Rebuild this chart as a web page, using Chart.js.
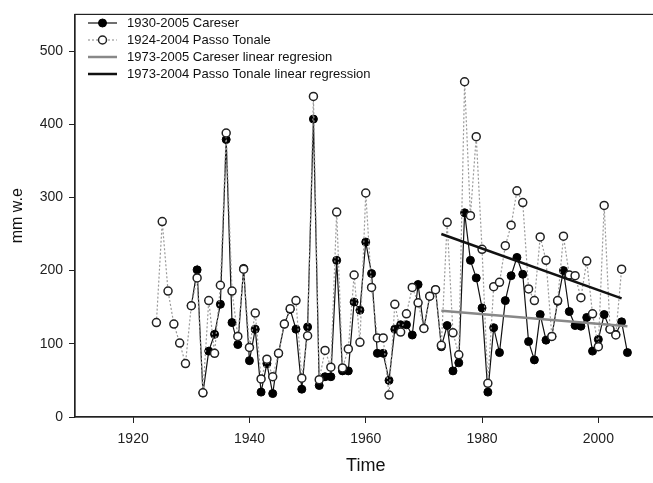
<!DOCTYPE html>
<html>
<head>
<meta charset="utf-8">
<script src="https://cdn.jsdelivr.net/npm/chart.js@4.4.1/dist/chart.umd.min.js"></script>
<style>
  html, body { margin: 0; padding: 0; background: #fff; overflow: hidden; }
</style>
</head>
<body>
<canvas id="chart" width="662" height="483"></canvas>
<script>
// years shared by both stations (Careser starts 1930, Passo Tonale ends 2004)
const years = [
  1924, 1925, 1926, 1927, 1928, 1929, 1930, 1931, 1932, 1933,
  1934, 1935, 1936, 1937, 1938, 1939, 1940, 1941, 1942, 1943,
  1944, 1945, 1946, 1947, 1948, 1949, 1950, 1951, 1952, 1953,
  1954, 1955, 1956, 1957, 1958, 1959, 1960, 1961, 1962, 1963,
  1964, 1965, 1966, 1967, 1968, 1969, 1970, 1971, 1972, 1973,
  1974, 1975, 1976, 1977, 1978, 1979, 1980, 1981, 1982, 1983,
  1984, 1985, 1986, 1987, 1988, 1989, 1990, 1991, 1992, 1993,
  1994, 1995, 1996, 1997, 1998, 1999, 2000, 2001, 2002, 2003,
  2004, 2005
];

const careser = [
  null, null, null, null, null, null, 152, 201, 33, 90,
  113, 154, 379, 129, 99, 203, 77, 120, 34, 73,
  32, 87, 127, 147, 120, 38, 123, 407, 43, 55,
  55, 214, 63, 63, 157, 146, 239, 196, 87, 87,
  50, 120, 126, 126, 112, 181, 121, 165, 174, 96,
  125, 63, 74, 279, 214, 190, 149, 34, 122, 88,
  159, 193, 218, 195, 103, 78, 140, 105, 110, 158,
  200, 144, 125, 124, 136, 90, 106, 140, 120, 113,
  130, 88
];

const tonale = [
  129, 267, 172, 127, 101, 73, 152, 190, 33, 159,
  87, 180, 388, 172, 110, 202, 95, 142, 52, 79,
  55, 87, 127, 148, 159, 53, 111, 438, 51, 91,
  68, 280, 67, 93, 194, 102, 306, 177, 108, 108,
  30, 154, 116, 141, 177, 156, 121, 165, 174, 98,
  266, 115, 85, 458, 275, 383, 229, 46, 178, 184,
  234, 262, 309, 293, 175, 159, 246, 214, 110, 159,
  247, 194, 193, 163, 213, 141, 96, 289, 120, 112,
  202, null
];

// regression lines, end points
const careserFitYears = [1973, 2005];
const careserFit = [145, 124];
const tonaleFitYears = [1973, 2004];
const tonaleFit = [250, 162];

const xTicks = [1920, 1940, 1960, 1980, 2000];
const yTicks = [0, 100, 200, 300, 400, 500];

const legendLabels = [
  "1930-2005 Careser",
  "1924-2004 Passo Tonale",
  "1973-2005 Careser linear regresion",
  "1973-2004 Passo Tonale linear regression"
];

function toPoints(xs, ys) {
  return xs.map((x, i) => ({ x: x, y: ys[i] }));
}

const FONT = "'Liberation Sans', Arial, sans-serif";

// box round the plot area
const framePlugin = {
  id: 'frame',
  afterDraw(chart) {
    const { ctx, chartArea: a } = chart;
    ctx.save();
    ctx.strokeStyle = '#222';
    ctx.lineWidth = 1.2;
    ctx.strokeRect(a.left, a.top, a.right - a.left, a.bottom - a.top);
    ctx.restore();
  }
};

// legend drawn inside the plot, top left
const legendPlugin = {
  id: 'innerLegend',
  afterDraw(chart) {
    const ctx = chart.ctx;
    const x0 = 88, x1 = 117, tx = 127;
    const rows = [23, 40, 57, 74];
    ctx.save();
    ctx.font = '13px ' + FONT;
    ctx.textBaseline = 'middle';
    legendLabels.forEach((lab, i) => {
      const ds = chart.data.datasets[i];
      const y = rows[i];
      ctx.beginPath();
      ctx.strokeStyle = ds.borderColor;
      ctx.lineWidth = ds.borderWidth;
      ctx.setLineDash(ds.borderDash || []);
      ctx.moveTo(x0, y);
      ctx.lineTo(x1, y);
      ctx.stroke();
      ctx.setLineDash([]);
      if (ds.pointRadius > 0) {
        ctx.beginPath();
        ctx.arc((x0 + x1) / 2, y, ds.pointRadius, 0, Math.PI * 2);
        ctx.fillStyle = ds.pointBackgroundColor;
        ctx.fill();
        ctx.lineWidth = ds.pointBorderWidth;
        ctx.strokeStyle = ds.pointBorderColor;
        ctx.stroke();
      }
      ctx.fillStyle = '#111';
      ctx.fillText(lab, tx, y);
    });
    ctx.restore();
  }
};

new Chart(document.getElementById('chart'), {
  type: 'line',
  data: {
    datasets: [
      {
        label: legendLabels[0],
        data: toPoints(years, careser),
        borderColor: '#111',
        borderWidth: 1.2,
        pointRadius: 4,
        pointBackgroundColor: '#000',
        pointBorderColor: '#000',
        pointBorderWidth: 1,
        order: 2
      },
      {
        label: legendLabels[1],
        data: toPoints(years, tonale),
        borderColor: '#999',
        borderWidth: 1.2,
        borderDash: [2, 2],
        pointRadius: 4,
        pointBackgroundColor: '#fff',
        pointBorderColor: '#222',
        pointBorderWidth: 1.5,
        order: 1
      },
      {
        label: legendLabels[2],
        data: toPoints(careserFitYears, careserFit),
        borderColor: '#888',
        borderWidth: 2.5,
        pointRadius: 0,
        order: 0
      },
      {
        label: legendLabels[3],
        data: toPoints(tonaleFitYears, tonaleFit),
        borderColor: '#111',
        borderWidth: 2.5,
        pointRadius: 0,
        order: -1
      }
    ]
  },
  options: {
    responsive: false,
    animation: false,
    layout: { padding: { top: 9, right: 4, left: 0, bottom: 0 } },
    plugins: {
      legend: { display: false },
      tooltip: { enabled: false }
    },
    scales: {
      x: {
        type: 'linear',
        min: 1910,
        max: 2010,
        afterBuildTicks: (s) => { s.ticks = xTicks.map(v => ({ value: v })); },
        afterFit: (s) => { s.height = 66; },
        grid: { drawOnChartArea: false, drawTicks: true, tickLength: 6, color: '#222' },
        border: { color: '#222', width: 1.2 },
        ticks: { color: '#222', padding: 8, font: { family: FONT, size: 14 }, maxRotation: 0, callback: (v) => String(v) },
        title: { display: true, text: 'Time', color: '#111', font: { family: FONT, size: 18 }, padding: { top: 0, bottom: 6 } }
      },
      y: {
        min: 0,
        max: 550,
        afterBuildTicks: (s) => { s.ticks = yTicks.map(v => ({ value: v })); },
        afterFit: (s) => { s.width = 75; },
        grid: { drawOnChartArea: false, drawTicks: true, tickLength: 6, color: '#222' },
        border: { color: '#222', width: 1.2 },
        ticks: { color: '#222', padding: 6, font: { family: FONT, size: 14 }, callback: (v) => String(v) },
        title: { display: true, text: 'mm w.e', color: '#111', font: { family: FONT, size: 16 }, padding: { top: 8, bottom: 0 } }
      }
    }
  },
  plugins: [framePlugin, legendPlugin]
});
</script>
</body>
</html>
